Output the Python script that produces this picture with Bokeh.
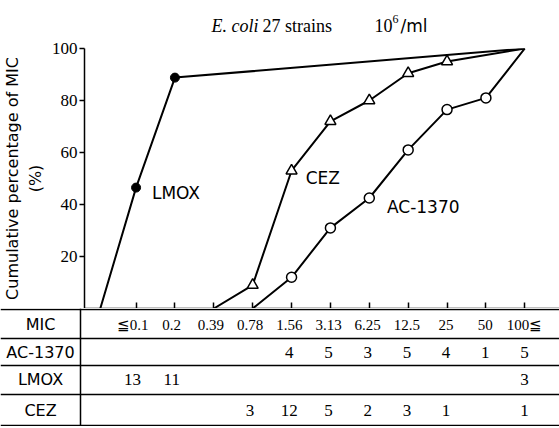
from bokeh.plotting import figure
from bokeh.layouts import column
from bokeh.models import Range1d, FixedTicker, Label, ColumnDataSource
from bokeh.core.properties import value
from bokeh.embed import file_html
from bokeh.resources import INLINE

# ---------------- data ----------------
mic_labels = ["≦0.1", "0.2", "0.39", "0.78", "1.56", "3.13", "6.25", "12.5", "25", "50", "100≦"]
row_names = ["MIC", "AC-1370", "LMOX", "CEZ"]
ac_counts = ["", "", "", "", "4", "5", "3", "5", "4", "1", "5"]
lmox_counts = ["13", "11", "", "", "", "", "", "", "", "", "3"]
cez_counts = ["", "", "", "3", "12", "5", "2", "3", "1", "", "1"]

# cumulative curves: x = MIC column index, y = cumulative %
lmox_x = [-0.92, 0, 1, 10]
lmox_y = [0, 46.5, 88.8, 100]
cez_x = [2, 3, 4, 5, 6, 7, 8, 10]
cez_y = [0, 9, 53, 72, 80, 90.5, 95, 100]
ac_x = [3, 4, 5, 6, 7, 8, 9, 10]
ac_y = [0, 12, 31, 42.5, 61, 76.5, 81, 100]

title_parts = ["E. coli", "27 strains", "10", "6", "/ml"]

# ---------------- layout geometry (page pixels) ----------------
W = 559
PAGE_X = 0
PX = 39.2                  # px per MIC column
AXIS_X = 80                # page x of y axis
COL0_X = 132               # page x of first MIC column
LEFT = AXIS_X - PAGE_X
X0 = (AXIS_X - COL0_X) / PX
X1 = X0 + (W - LEFT) / PX
TITLE_H = 38
TOP = 10
FRAME_H = 260
MAIN_H = TOP + FRAME_H
TAB_H = 118

SERIF = "Liberation Serif"
SANS = "DejaVu Sans"

# ---------------- title strip ----------------
h = figure(width=W, height=TITLE_H, output_backend="svg", toolbar_location=None,
           x_range=Range1d(PAGE_X, PAGE_X + W), y_range=Range1d(TITLE_H, 0),
           min_border=0, x_axis_location=None, y_axis_location=None)
h.frame_align = False
h.outline_line_color = None
h.grid.visible = False
BASE = 25
h.text(x=[211], y=[BASE], text=[title_parts[0]], text_font=value(SERIF), text_font_style="italic",
       text_font_size="18px", text_baseline="alphabetic", text_color="black")
h.text(x=[262], y=[BASE], text=[title_parts[1]], text_font=value(SERIF),
       text_font_size="18px", text_baseline="alphabetic", text_color="black")
h.text(x=[374], y=[BASE], text=[title_parts[2]], text_font=value(SERIF),
       text_font_size="18px", text_baseline="alphabetic", text_color="black")
h.text(x=[392], y=[BASE - 7], text=[title_parts[3]], text_font=value(SERIF),
       text_font_size="12px", text_baseline="alphabetic", text_color="black")
h.text(x=[400], y=[BASE], text=[title_parts[4]], text_font=value(SANS),
       text_font_size="17px", text_baseline="alphabetic", text_color="black")

# ---------------- main chart ----------------
p = figure(width=W, height=MAIN_H, output_backend="svg", toolbar_location=None,
           x_range=Range1d(X0, X1), y_range=Range1d(0, 100),
           min_border_left=LEFT, min_border_right=0, min_border_top=TOP, min_border_bottom=0)
p.frame_align = False
p.outline_line_color = None
p.grid.visible = False

ya = p.yaxis[0]
ya.ticker = FixedTicker(ticks=[20, 40, 60, 80, 100])
ya.minor_tick_line_color = None
ya.major_tick_in = 0
ya.major_tick_out = 5
ya.major_tick_line_width = 1.5
ya.axis_line_width = 1.5
ya.major_label_text_font = SERIF
ya.major_label_text_font_size = "17px"
ya.major_label_text_color = "black"
ya.major_label_standoff = 2
ya.axis_label = "Cumulative percentage of MIC\n(%)"
ya.axis_label_text_font = SANS
ya.axis_label_text_font_style = "normal"
ya.axis_label_text_font_size = "16px"
ya.axis_label_text_color = "black"
ya.axis_label_standoff = 4

xa = p.xaxis[0]
xa.ticker = FixedTicker(ticks=list(range(len(mic_labels))))
xa.minor_tick_line_color = None
xa.major_tick_in = 6
xa.major_tick_out = 0
xa.major_tick_line_width = 1.5
xa.axis_line_width = 1.5
xa.major_label_overrides = {i: "" for i in range(len(mic_labels))}
xa.major_label_text_font_size = "1px"
xa.major_label_standoff = 0

LW = 2
p.line(lmox_x, lmox_y, line_color="black", line_width=LW)
p.line(cez_x, cez_y, line_color="black", line_width=LW)
p.line(ac_x, ac_y, line_color="black", line_width=LW)

p.scatter(lmox_x[1:-1], lmox_y[1:-1], marker="circle", size=9, fill_color="black", line_color="black")
p.scatter(cez_x[1:-1], cez_y[1:-1], marker="triangle", size=11, fill_color="white",
          line_color="black", line_width=1.5)
p.scatter(ac_x[1:-1], ac_y[1:-1], marker="circle", size=10, fill_color="white",
          line_color="black", line_width=1.5)

def px_to_x(px):
    return (px - COL0_X) / PX

def py_to_y(py):
    return (TITLE_H + TOP + FRAME_H - py) / (FRAME_H / 100)

for txt, lx, ly in [("LMOX", 148, 192), ("CEZ", 303, 177), ("AC-1370", 385, 206)]:
    p.add_layout(Label(x=px_to_x(lx), y=py_to_y(ly), text=txt, text_font=SANS, text_color="black",
                       text_font_size="17px", text_baseline="middle", text_align="left"))

# ---------------- table ----------------
TX0 = X0 - LEFT / PX
t = figure(width=W, height=TAB_H, output_backend="svg", toolbar_location=None,
           x_range=Range1d(TX0, X1), y_range=Range1d(TAB_H, 0),
           min_border=0, x_axis_location=None, y_axis_location=None)
t.frame_align = False
t.outline_line_color = None
t.grid.visible = False

row_edges = [1, 30, 57, 86, 117]          # horizontal rule positions (px from table top)
row_mid = [16, 43.5, 71, 102]             # text centre of each row
t.hspan(y=row_edges, line_color="black", line_width=1.5)
t.vspan(x=[X0], line_color="black", line_width=1.5)

label_x = TX0 + (40 - PAGE_X) / PX
t.text(x=[label_x] * len(row_names), y=row_mid, text=row_names, text_color="black",
       text_font=value(SANS), text_font_size="16px", text_align="center", text_baseline="middle")

mic_src = ColumnDataSource(dict(x=list(range(len(mic_labels))), y=[row_mid[0]] * len(mic_labels),
                                text=mic_labels))
t.text(x="x", y="y", text="text", source=mic_src, text_font=value(SERIF), text_font_size="15px",
       text_align="center", text_baseline="middle", text_color="black")

cx, cy, ct = [], [], []
for r, counts in enumerate([ac_counts, lmox_counts, cez_counts], start=1):
    for i, c in enumerate(counts):
        if c:
            cx.append(i); cy.append(row_mid[r]); ct.append(c)
t.text(x=cx, y=cy, text=ct, text_font=value(SERIF), text_font_size="17px",
       text_align="center", text_baseline="middle", text_color="black")

layout = column(h, p, t, spacing=0)
open("out.html", "w").write(file_html(layout, INLINE))
